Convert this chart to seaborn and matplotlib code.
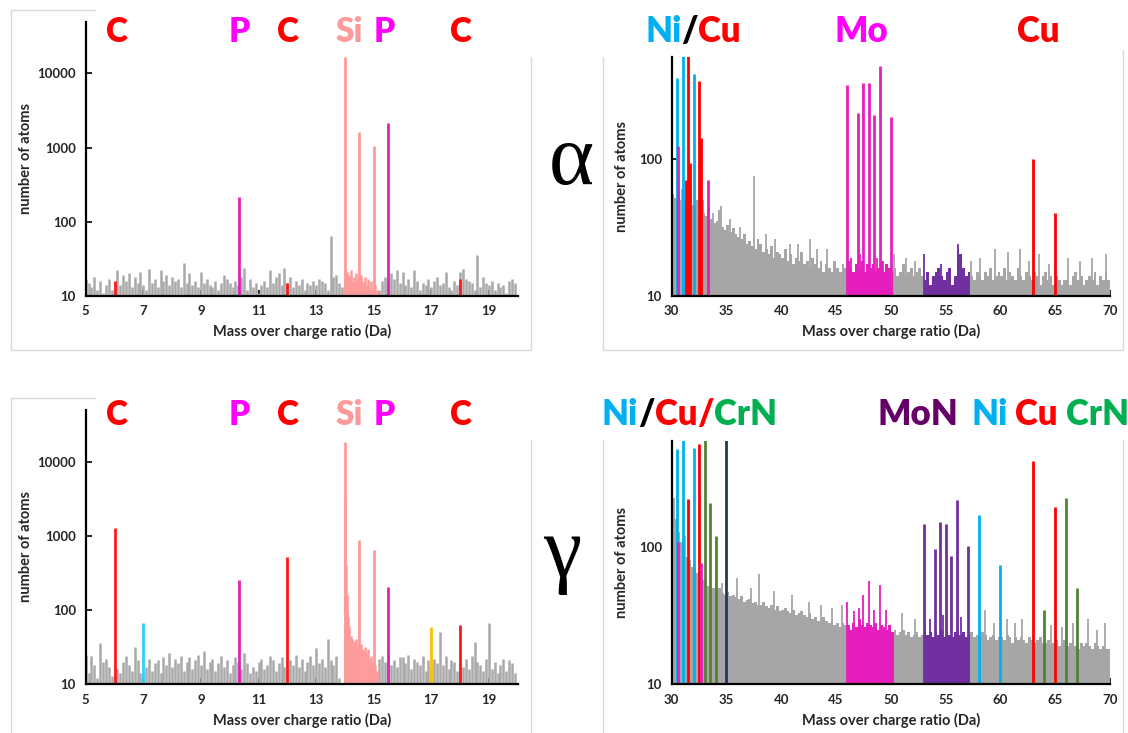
import numpy as np
import pandas as pd
import matplotlib
matplotlib.use("Agg")
import matplotlib.pyplot as plt
import seaborn as sns
from matplotlib.ticker import NullLocator
from matplotlib.lines import Line2D

# ---------------- DATA ----------------
# left panels: background counts on a 0.1 Da grid, 5.0 .. 19.9 Da
left_grid_start, left_grid_step = 5.0, 0.1
tl_noise = [17, 15, 13, 18, 12, 16, 11, 14, 17, 12,
            15, 22, 14, 19, 16, 20, 13, 18, 15, 21,
            14, 12, 23, 15, 17, 13, 22, 16, 19, 14,
            18, 16, 17, 13, 28, 15, 20, 14, 16, 13,
            21, 15, 17, 14, 13, 16, 12, 15, 19, 17,
            15, 13, 16, 14, 18, 24, 12, 17, 13, 15,
            11, 14, 16, 13, 22, 15, 18, 20, 14, 24,
            15, 18, 13, 16, 14, 17, 12, 15, 14, 16,
            14, 17, 16, 15, 12, 63, 18, 19, 15, 13,
            0, 0, 0, 0, 0, 0, 0, 0, 0, 0,
            0, 0, 12, 16, 18, 15, 20, 17, 22, 15,
            21, 14, 17, 13, 22, 16, 12, 15, 14, 17,
            13, 16, 18, 14, 15, 21, 13, 12, 16, 14,
            21, 23, 17, 16, 15, 12, 35, 13, 18, 15,
            14, 16, 12, 15, 13, 14, 11, 16, 17, 15]
bl_noise = [25, 14, 24, 18, 12, 36, 20, 22, 17, 13,
            12, 16, 14, 20, 24, 18, 15, 32, 21, 14,
            13, 17, 22, 15, 19, 21, 14, 23, 18, 26,
            17, 22, 19, 24, 15, 20, 23, 16, 21, 25,
            18, 28, 16, 20, 22, 15, 19, 24, 17, 21,
            14, 18, 23, 20, 16, 26, 19, 14, 17, 15,
            20, 22, 16, 18, 24, 21, 15, 19, 23, 17,
            16, 21, 18, 25, 17, 22, 15, 20, 24, 18,
            31, 19, 22, 17, 40, 21, 18, 24, 12, 10,
            0, 0, 0, 0, 0, 0, 0, 0, 0, 0,
            0, 0, 22, 24, 20, 26, 18, 21, 17, 23,
            23, 19, 25, 16, 22, 20, 18, 24, 15, 21,
            17, 22, 19, 50, 18, 24, 16, 21, 20, 15,
            19, 17, 22, 16, 24, 37, 20, 18, 15, 22,
            67, 16, 20, 14, 18, 22, 15, 21, 19, 14]

# Si tail (pink) between the Si peaks
si_tail_mz = [14.02, 14.04, 14.06, 14.08, 14.1, 14.15, 14.2, 14.25, 14.3, 14.35,
              14.4, 14.45, 14.55, 14.6, 14.65, 14.7, 14.75, 14.8, 14.85, 14.9,
              14.95, 15.05, 15.1]
tl_si_tail = [22, 20, 18, 21, 17, 19, 22, 16, 18, 15, 20, 17, 19, 16, 15, 18,
              14, 17, 13, 16, 12, 14, 12]
bl_si_tail = [3000, 400, 160, 100, 80, 60, 45, 40, 38, 35, 40, 32, 35, 30, 28,
              32, 26, 30, 22, 24, 20, 18, 15]

# left peaks
tl_peak_mz = [6.0, 10.33, 12.0, 14.0, 14.5, 15.0, 15.5, 18.0]
tl_peak_cnt = [16, 217, 15, 16800, 1620, 1050, 2130, 17]
tl_peak_ion = ["C", "P", "C", "Si", "Si", "Si", "P", "C"]

bl_peak_mz = [6.0, 7.0, 10.33, 12.0, 14.0, 14.5, 15.0, 15.5, 17.0, 18.0]
bl_peak_cnt = [1290, 66, 251, 516, 18700, 870, 635, 205, 59, 63]
bl_peak_ion = ["C", "N", "P", "C", "Si", "Si", "Si", "P", "O", "C"]

# right panels: background counts on a 0.25 Da grid, 30.0 .. 69.75 Da
right_grid_start, right_grid_step = 30.0, 0.25
tr_bg = [55, 52, 58, 50, 54, 48, 52, 46,
         45, 50, 42, 40, 38, 44, 36, 34,
         35, 42, 32, 30, 33, 29, 31, 28,
         27, 26, 28, 24, 25, 23, 22, 26,
         24, 21, 22, 20, 23, 19, 21, 20,
         19, 22, 18, 20, 17, 19, 18, 21,
         17, 18, 16, 19, 17, 16, 18, 15,
         17, 16, 15, 18, 16, 15, 17, 16,
         18, 16, 15, 17, 16, 18, 15, 17,
         16, 17, 15, 16, 18, 15, 17, 16,
         15, 16, 14, 15, 17, 14, 15, 16,
         14, 15, 16, 14, 13, 15, 12, 14,
         15, 16, 14, 13, 15, 16, 12, 14,
         22, 20, 16, 14, 15, 14, 13, 15,
         14, 13, 15, 14, 16, 13, 14, 15,
         14, 16, 13, 15, 14, 13, 16, 14,
         13, 15, 14, 13, 15, 14, 12, 14,
         15, 13, 14, 12, 14, 13, 12, 13,
         13, 12, 14, 15, 13, 14, 12, 13,
         14, 13, 15, 12, 14, 13, 15, 13]
br_bg = [200, 160, 130, 110, 95, 85, 80, 72,
         70, 65, 60, 58, 55, 52, 50, 50,
         48, 50, 46, 45, 47, 44, 45, 43,
         42, 44, 40, 41, 42, 39, 40, 38,
         38, 40, 37, 36, 38, 35, 37, 34,
         35, 36, 34, 33, 35, 32, 33, 34,
         32, 31, 33, 30, 31, 29, 30, 31,
         29, 28, 30, 27, 28, 26, 28, 27,
         27, 25, 28, 26, 30, 27, 26, 28,
         27, 26, 28, 25, 27, 26, 25, 27,
         24, 25, 23, 24, 25, 23, 24, 22,
         23, 24, 22, 23, 25, 23, 24, 22,
         24, 23, 25, 22, 24, 23, 22, 24,
         25, 23, 24, 22, 23, 24, 22, 23,
         22, 24, 23, 21, 22, 23, 21, 22,
         22, 21, 23, 22, 20, 22, 21, 22,
         21, 20, 22, 21, 20, 21, 22, 20,
         20, 21, 19, 20, 21, 19, 20, 21,
         19, 20, 21, 19, 18, 20, 19, 20,
         19, 18, 20, 19, 18, 19, 18, 18]

tr_spike_mz = [30.9, 31.8, 32.9, 33.8, 34.5, 35.3, 36.2, 37.5, 38.6, 39.4, 40.8,
               41.5, 42.6, 43.3, 44.2, 46.4, 47.2, 48.7, 49.3, 50.3, 51.4, 52.2,
               53.0, 54.6, 56.1, 57.3, 58.1, 59.5, 60.7, 61.8, 62.6, 63.5, 64.4,
               66.2, 67.3, 68.4, 69.6]
tr_spike_cnt = [60, 62, 50, 40, 45, 36, 32, 75, 28, 26, 24, 24, 26, 22, 22, 19,
                20, 19, 18, 20, 19, 18, 20, 17, 24, 18, 19, 22, 21, 22, 18, 20,
                17, 19, 18, 19, 20]
br_spike_mz = [30.2, 31.2, 34.6, 36.0, 37.2, 38.0, 39.3, 41.0, 42.5, 43.6, 44.6,
               45.5, 46.0, 46.6, 47.1, 47.5, 48.0, 48.5, 49.0, 49.6, 51.0, 52.2,
               53.6, 54.8, 56.4, 58.6, 59.4, 60.6, 61.3, 62.0, 64.6, 65.6, 66.6,
               68.0, 68.8, 69.5]
br_spike_cnt = [230, 120, 55, 60, 50, 64, 48, 45, 40, 38, 36, 38, 40, 34, 36, 45,
                57, 35, 53, 35, 33, 30, 30, 32, 31, 35, 28, 30, 28, 30, 27, 26,
                28, 30, 25, 28]

tr_peak_mz = [30.5, 31.0, 32.0, 31.5, 32.5, 31.35, 31.65, 32.65, 30.6, 33.35,
              46.0, 47.0, 47.5, 48.0, 48.5, 49.0, 50.0, 63.0, 65.0]
tr_peak_cnt = [388, 700, 417, 700, 372, 70, 93, 142, 123, 70,
               346, 215, 360, 357, 209, 477, 201, 100, 40]
tr_peak_ion = ["Ni", "Ni", "Ni", "Cu", "Cu", "Cu", "Cu", "Cu", "Mo", "Mo",
               "Mo", "Mo", "Mo", "Mo", "Mo", "Mo", "Mo", "Cu", "Cu"]

br_peak_mz = [30.5, 31.0, 32.0, 58.0, 60.0, 31.5, 32.5, 63.0, 65.0,
              33.0, 33.5, 34.0, 64.0, 66.0, 67.0, 35.0, 30.6, 32.7,
              53.0, 54.0, 54.5, 55.0, 55.5, 56.0, 57.0]
br_peak_cnt = [520, 700, 527, 172, 74, 225, 565, 427, 195,
               700, 212, 120, 35, 229, 50, 700, 109, 76,
               147, 97, 152, 147, 86, 221, 102]
br_peak_ion = ["Ni", "Ni", "Ni", "Ni", "Ni", "Cu", "Cu", "Cu", "Cu",
               "CrN", "CrN", "CrN", "CrN", "CrN", "CrN", "Mo3", "Mo", "Mo",
               "MoN", "MoN", "MoN", "MoN", "MoN", "MoN", "MoN"]

# ---------------- STYLE ----------------
sns.set_theme(style="white")
plt.rcParams["font.family"] = ["Lato", "DejaVu Sans"]

line_col = {"C": "#FF1A1A", "P": "#E61EBE", "Si": "#FF9A9A", "N": "#33CCFF",
            "O": "#FFC000", "Ni": "#00B0F0", "Cu": "#FF0000", "Mo": "#E61EBE",
            "CrN": "#548235", "Mo3": "#203864", "MoN": "#7030A0"}
GRAY = "#A6A6A6"
LGRAY = "#A9A9A9"

W, H = 1128, 733
fig = plt.figure(figsize=(W / 100, H / 100), dpi=100)


def px_axes(l, t, r, b):
    return fig.add_axes([l / W, 1 - b / H, (r - l) / W, (b - t) / H])


ax_tl = px_axes(85.7, 21.7, 517.7, 295.7)
ax_tr = px_axes(671.7, 57.3, 1110, 295.7)
ax_bl = px_axes(85.7, 410, 517.7, 684)
ax_br = px_axes(671.7, 440.7, 1110, 684)


def region_color(m):
    if 46.0 <= m < 50.1:
        return "#E61EBE"
    if 53.0 <= m < 57.1:
        return "#7030A0"
    return GRAY


def draw_left(ax, noise, tail, pk_mz, pk_cnt, pk_ion):
    mz = left_grid_start + left_grid_step * np.arange(len(noise))
    cnt = np.array(noise, dtype=float)
    keep = cnt > 0
    ax.vlines(mz[keep], 1, cnt[keep], color=LGRAY, lw=1.8)
    ax.vlines(si_tail_mz, 1, tail, color=line_col["Si"], lw=1.8)
    for m, c, ion in zip(pk_mz, pk_cnt, pk_ion):
        ax.vlines(m, 1, c, color=line_col[ion], lw=2.0)
    ax.set_yscale("log")
    ax.set_xlim(5, 20)
    ax.set_ylim(10, 50000)
    ax.set_xticks([5, 7, 9, 11, 13, 15, 17, 19])
    ax.set_xticklabels(["5", "7", "9", "11", "13", "15", "17", "19"])
    ax.set_yticks([10, 100, 1000, 10000])
    ax.set_yticklabels(["10", "100", "1000", "10000"])


def draw_right(ax, bg, sp_mz, sp_cnt, pk_mz, pk_cnt, pk_ion, ytop):
    mz = right_grid_start + right_grid_step * np.arange(len(bg))
    df = pd.DataFrame({"mz": mz + right_grid_step / 2, "cnt": np.array(bg, dtype=float)})
    df["col"] = [region_color(m + 0.01) for m in mz]
    nb = len(bg)
    for col in [GRAY, "#E61EBE", "#7030A0"]:
        sub = df[df["col"] == col]
        sns.histplot(data=sub, x="mz", weights="cnt", bins=nb, binrange=(30.0, 70.0),
                     ax=ax, color=col, alpha=1.0, linewidth=0, element="bars",
                     legend=False)
    ax.vlines(sp_mz, 1, sp_cnt, colors=[region_color(m) for m in sp_mz], lw=1.3)
    for m, c, ion in zip(pk_mz, pk_cnt, pk_ion):
        ax.vlines(m, 1, c, color=line_col[ion], lw=2.0)
    ax.set_yscale("log")
    ax.set_xlim(30, 70)
    ax.set_ylim(10, ytop)
    ax.set_xticks([30, 35, 40, 45, 50, 55, 60, 65, 70])
    ax.set_xticklabels([str(v) for v in [30, 35, 40, 45, 50, 55, 60, 65, 70]])
    ax.set_yticks([10, 100])
    ax.set_yticklabels(["10", "100"])


draw_left(ax_tl, tl_noise, tl_si_tail, tl_peak_mz, tl_peak_cnt, tl_peak_ion)
draw_left(ax_bl, bl_noise, bl_si_tail, bl_peak_mz, bl_peak_cnt, bl_peak_ion)
draw_right(ax_tr, tr_bg, tr_spike_mz, tr_spike_cnt, tr_peak_mz, tr_peak_cnt, tr_peak_ion, 550)
draw_right(ax_br, br_bg, br_spike_mz, br_spike_cnt, br_peak_mz, br_peak_cnt, br_peak_ion, 600)

for ax in [ax_tl, ax_tr, ax_bl, ax_br]:
    sns.despine(ax=ax)
    ax.set_facecolor("none")
    for s in ["left", "bottom"]:
        ax.spines[s].set_color("black")
        ax.spines[s].set_linewidth(1.6)
    ax.yaxis.set_minor_locator(NullLocator())
    ax.tick_params(axis="both", direction="in", length=4, width=1.2, color="black",
                   labelsize=9.5, pad=7, left=True, bottom=True)
    for lab in ax.get_xticklabels() + ax.get_yticklabels():
        lab.set_fontweight("bold")
    ax.set_xlabel("Mass over charge ratio (Da)", fontsize=10.5, fontweight="bold", labelpad=5)
    ax.set_ylabel("number of atoms", fontsize=10.5, fontweight="bold", labelpad=3)
    ax.grid(False)
for ax in [ax_tr, ax_br]:
    ax.yaxis.labelpad = 7

# panel frames (light gray)
FR = "#D9D9D9"


def seg(x0, y0, x1, y1):
    fig.add_artist(Line2D([x0 / W, x1 / W], [1 - y0 / H, 1 - y1 / H], color=FR, lw=1.0))


seg(10.7, 10, 95, 10); seg(10.7, 10, 10.7, 350); seg(10.7, 350, 531, 350); seg(531, 57, 531, 350)
seg(603.5, 57, 603.5, 350); seg(603.5, 350, 1123, 350); seg(1123, 50, 1123, 350)
seg(10.7, 398, 95, 398); seg(10.7, 398, 10.7, 733); seg(531, 440, 531, 733)
seg(603.5, 440, 603.5, 733); seg(1123, 440, 1123, 733)

# element labels
renderer = fig.canvas.get_renderer()


def label_center(xc, yb, s, color, size):
    fig.text(xc / W, 1 - yb / H, s, color=color, fontsize=size, fontweight="heavy",
             ha="center", va="baseline")


def label_seq(x0, yb, pieces, size):
    x = x0
    for s, c in pieces:
        t = fig.text(x / W, 1 - yb / H, s, color=c, fontsize=size, fontweight="heavy",
                     ha="left", va="baseline")
        x += t.get_window_extent(renderer).width


RED, MAG, PINK, CYAN, GREEN, PURP = "#FF0000", "#FF00FF", "#FF9A9A", "#00B0F0", "#00B050", "#660066"
for yb in (41.7, 425):
    for xc, s, c in [(117, "C", RED), (239, "P", MAG), (288, "C", RED),
                     (349, "Si", PINK), (384, "P", MAG), (461, "C", RED)]:
        label_center(xc, yb, s, c, 24)

label_seq(645, 41.7, [("Ni", CYAN), ("/", "black"), ("Cu", RED)], 25)
label_center(861.5, 41.7, "Mo", MAG, 25)
label_center(1038.7, 41.7, "Cu", RED, 25)

label_seq(601.7, 425, [("Ni", CYAN), ("/", "black"), ("Cu", RED), ("/", RED), ("CrN", GREEN)], 25)
label_seq(877, 425, [("MoN", PURP)], 25)
label_seq(971, 425, [("Ni", CYAN)], 25)
label_seq(1014.6, 425, [("Cu", RED)], 25)
label_seq(1066.4, 425, [("CrN", GREEN)], 25)

# phase symbols
fig.text(571 / W, 1 - 163 / H, "α", fontsize=62, family=["Liberation Serif", "DejaVu Serif"],
         ha="center", va="center", color="black")
fig.text(562 / W, 1 - 555 / H, "γ", fontsize=62, family=["Liberation Serif", "DejaVu Serif"],
         ha="center", va="center", color="black")

fig.savefig("out.png", dpi=100)
